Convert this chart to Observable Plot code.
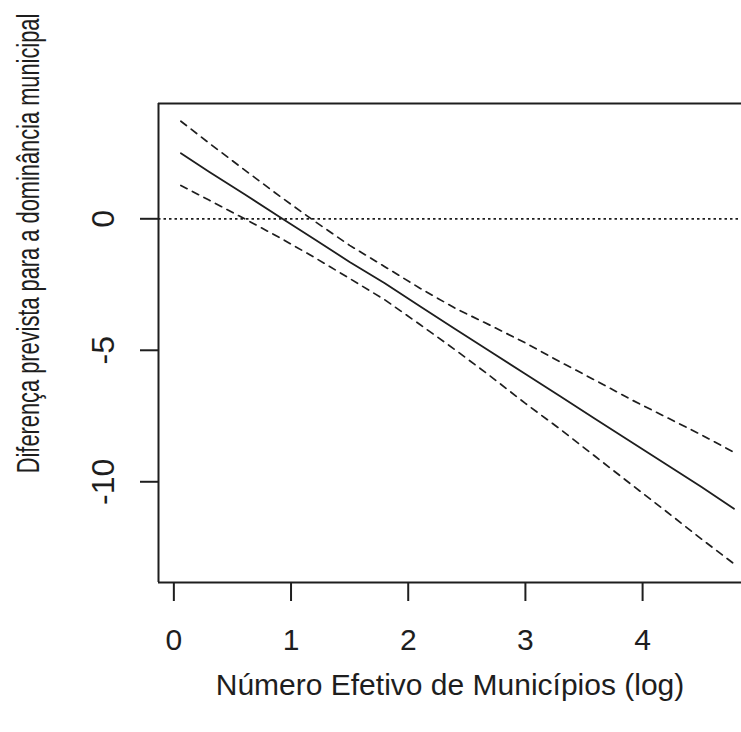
<!DOCTYPE html>
<html><head><meta charset="utf-8">
<script src="https://cdn.jsdelivr.net/npm/d3@7"></script>
<script src="https://cdn.jsdelivr.net/npm/@observablehq/plot@0.6"></script>
<style>body{margin:0;background:#fff}</style>
</head><body><div id="chart"></div>
<script>
const xValues   = [0.06, 0.3, 0.6, 0.9, 1.2, 1.5, 1.8, 2.1, 2.4, 2.7, 3.0, 3.3, 3.6, 3.9, 4.2, 4.5, 4.78];
const predicted = [2.49, 1.79, 0.94, 0.08, -0.78, -1.64, -2.45, -3.33, -4.19, -5.05, -5.90, -6.76, -7.62, -8.48, -9.33, -10.19, -11.03];
const upperCI   = [3.71, 2.88, 1.87, 0.87, -0.09, -1.01, -1.82, -2.64, -3.40, -4.05, -4.72, -5.45, -6.15, -6.87, -7.54, -8.21, -8.88];
const lowerCI   = [1.27, 0.71, 0.01, -0.71, -1.47, -2.27, -3.08, -4.02, -4.98, -5.98, -7.02, -8.01, -9.05, -10.09, -11.12, -12.17, -13.12];
const xTicks = [0, 1, 2, 3, 4];
const yTicks = [0, -5, -10];
const xDomain = [-0.131, 4.844];
const yDomain = [-13.83, 4.384];
const xLabel = "Número Efetivo de Municípios (log)";
const yLabel = "Diferença prevista para a dominância municipal";

const rows = xValues.map((x, i) => ({x, fit: predicted[i], hi: upperCI[i], lo: lowerCI[i]}));
const ink = "#1e1e1e";

const plot = Plot.plot({
  width: 741, height: 732,
  marginLeft: 158, marginRight: 0, marginTop: 103, marginBottom: 150,
  style: {fontFamily: "'Liberation Sans', Arial, sans-serif", background: "white", color: ink},
  x: {domain: xDomain},
  y: {domain: yDomain},
  marks: [
    Plot.ruleY([0], {stroke: ink, strokeWidth: 1.7, strokeDasharray: "2.5,3"}),
    Plot.line(rows, {x: "x", y: "hi", stroke: ink, strokeWidth: 1.7, strokeDasharray: "7,6"}),
    Plot.line(rows, {x: "x", y: "lo", stroke: ink, strokeWidth: 1.7, strokeDasharray: "7,6"}),
    Plot.line(rows, {x: "x", y: "fit", stroke: ink, strokeWidth: 1.8}),
    Plot.ruleX([xDomain[0]], {stroke: ink, strokeWidth: 2}),
    Plot.ruleY(yDomain, {stroke: ink, strokeWidth: 2}),
    Plot.axisX({ticks: xTicks, tickSize: 19, tickPadding: 27, fontSize: 30, tickFormat: d => String(d), label: null, stroke: ink, strokeWidth: 2}),
    Plot.axisY({ticks: yTicks, tickSize: 18, tickPadding: 27, tickRotate: -90, fontSize: 32, tickFormat: d => String(d), label: null, stroke: ink, strokeWidth: 2}),
    Plot.text([xLabel], {frameAnchor: "bottom", dy: 112, lineAnchor: "bottom", textAnchor: "middle", fontSize: 30, fill: ink}),
    Plot.text([yLabel], {frameAnchor: "left", rotate: -90, dx: -120, dy: -99.5, lineAnchor: "bottom", textAnchor: "middle", fontSize: 31, fill: ink, className: "ytitle"})
  ]
});
document.getElementById("chart").appendChild(plot);
const yt = plot.querySelector(".ytitle text");
if (yt) {
  const len = yt.getComputedTextLength();
  const s = 460 / len;
  yt.setAttribute("transform", (yt.getAttribute("transform") || "") + ` scale(${s.toFixed(3)},1)`);
}
</script>
</body></html>
